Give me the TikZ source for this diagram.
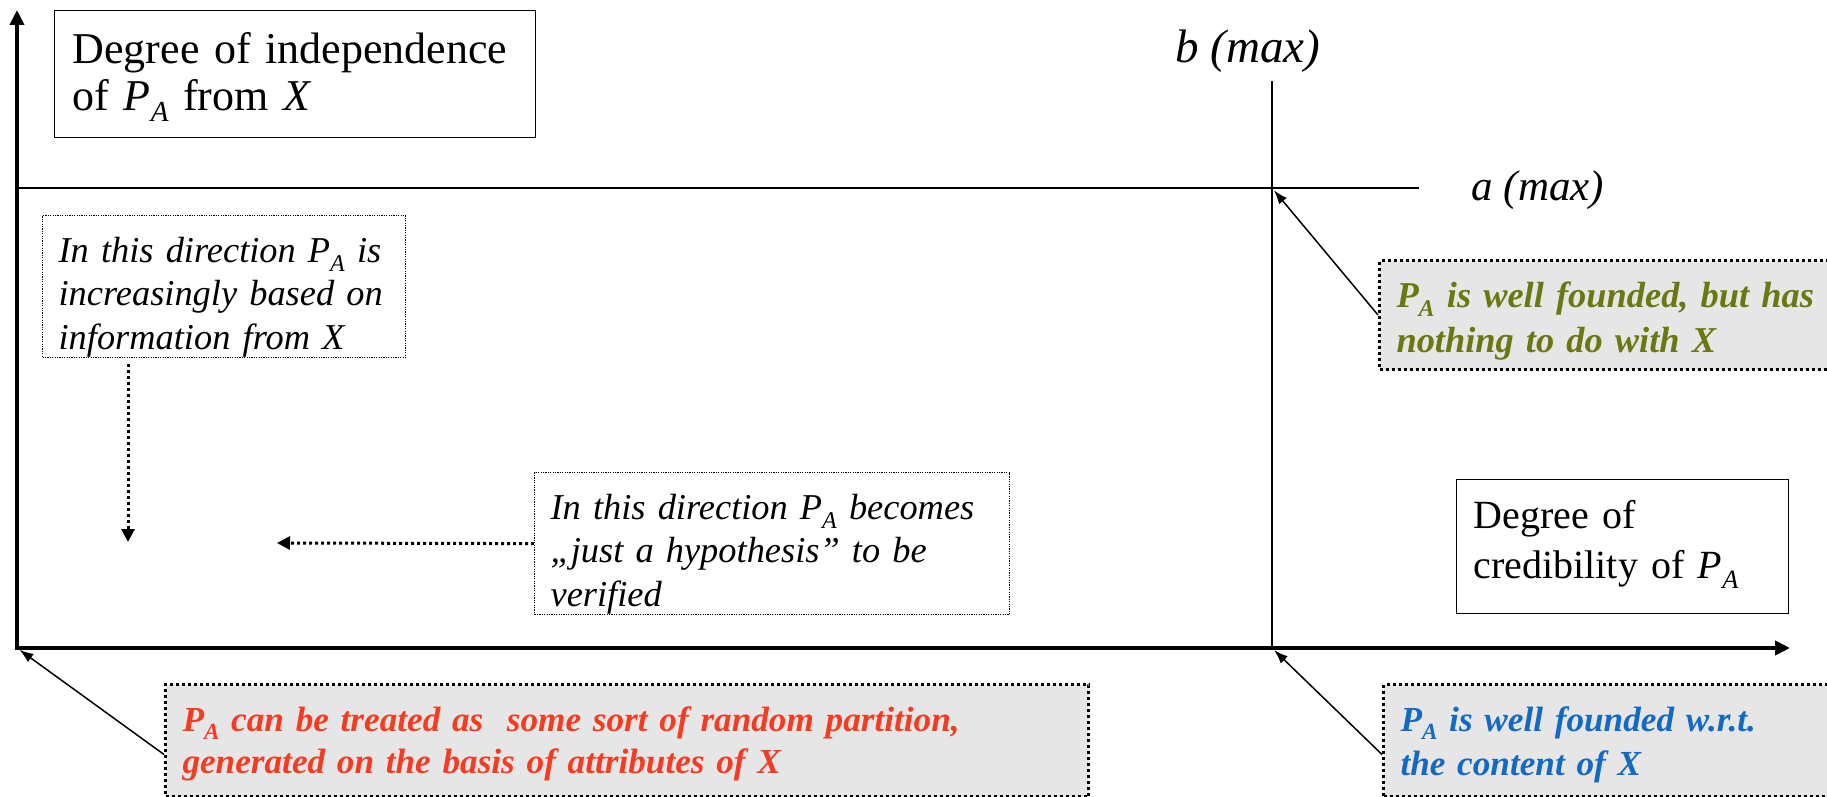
\documentclass[tikz,border=0pt]{standalone}
\usepackage{fontspec}
\setmainfont{Liberation Serif}
\usetikzlibrary{arrows.meta,positioning,calc}
\definecolor{olive}{RGB}{107,120,17}
\definecolor{redorange}{RGB}{245,60,35}
\definecolor{blue}{RGB}{20,105,195}
\definecolor{lightgray}{RGB}{230,230,230}
\newcommand{\PA}{\textit{P}\raisebox{-0.24em}{\scalebox{0.66}{\textit{A}}}}

\begin{document}
\begin{tikzpicture}[x=0.5pt, y=-0.5pt,
    every node/.style={align=left, anchor=north west, inner ysep=0pt},
    plainbox/.style={draw, line width=0.6pt, inner xsep=9pt, font=\fontsize{22}{23.5}\selectfont},
    dotbox/.style={draw, line width=0.6pt, dash pattern=on 0.6pt off 0.6pt, inner xsep=8pt, font=\itshape\fontsize{18.2}{21.6}\selectfont},
    callout/.style={draw, fill=lightgray, line width=1.5pt, dash pattern=on 1.5pt off 1.5pt, inner xsep=8.5pt, font=\bfseries\itshape\fontsize{18}{22}\selectfont},
    maxlabel/.style={anchor=base, inner sep=0pt, font=\itshape\fontsize{23.5}{23.5}\selectfont},
    axis/.style={line width=2pt, {Triangle[length=7.5pt,width=7pt]}-{Triangle[length=7.5pt,width=7pt]}},
    maxline/.style={line width=0.75pt},
    dirarrow/.style={line width=1.5pt, dash pattern=on 1.5pt off 1.5pt, -{Triangle[length=6.5pt,width=6.5pt]}},
    callarrow/.style={line width=0.75pt, shorten >=1.5pt, -{Latex[length=7pt,width=5pt]}}]
  \useasboundingbox (0,0) rectangle (1827,797);
  \clip (0,0) rectangle (1827,797);

  % axes
  \coordinate (origin) at (17,648);
  \coordinate (ytip) at (17,10);
  \coordinate (xtip) at (1790,648);
  \draw[axis] (ytip) -- (origin) -- (xtip);

  % maximum lines
  \coordinate (astart) at (17,188);
  \coordinate (aend) at (1419,188);
  \coordinate (btop) at (1272,81);
  \coordinate (bfoot) at (1272,648);
  \draw[maxline] (astart) -- (aend);
  \draw[maxline] (btop) -- (bfoot);
  \coordinate (ab) at (btop |- aend);
  \node[maxlabel] (bmax) at (1248,63) {b (max)};
  \node[maxlabel, font=\itshape\fontsize{21.5}{21.5}\selectfont] (amax) at (1538,200) {a (max)};

  % axis titles
  \node[plainbox, text width=222.5pt, text height=26.5pt, text depth=37pt] (indep) at (54,10) {Degree of independence\\of \PA{} from \textit{X}};
  \node[plainbox, font=\fontsize{20}{25}\selectfont, inner xsep=8.5pt, text width=149pt, text height=24.5pt, text depth=42.5pt] (cred) at (1456,479) {Degree of\\credibility of \PA};

  % directions
  \node[dotbox, text width=165.5pt, text height=23.5pt, text depth=47.5pt] (dir1) at (42,215) {In this direction \PA{} is\\increasingly based on\\information from X};
  \node[dotbox, text width=221.5pt, text height=23.5pt, text depth=47.5pt] (dir2) at (534,472) {In this direction \PA{} becomes\\„just a hypothesis” to be\\verified};
  \coordinate (downtip) at (128,542);
  \coordinate (lefttip) at (277,543);
  \draw[dirarrow, shorten <=3pt] (dir1.south -| downtip) -- (downtip);
  \draw[dirarrow] (dir2.west) -- (lefttip);

  % callouts
  \node[callout, text=olive, font=\bfseries\itshape\fontsize{18.2}{22.5}\selectfont, text width=224pt, text height=23.5pt, text depth=31pt] (wellx) at (1378,259) {\PA{} is well founded, but has\\nothing to do with X};
  \node[callout, text=redorange, font=\bfseries\itshape\fontsize{17.6}{21}\selectfont, text width=444.5pt, text height=23.5pt, text depth=32.5pt] (random) at (164,683) {\PA{} can be treated as~ some sort of random partition,\\generated on the basis of attributes of X};
  \node[callout, text=blue, font=\bfseries\itshape\fontsize{17.6}{22}\selectfont, text width=222pt, text height=23.5pt, text depth=32.5pt] (wrtx) at (1382,683) {\PA{} is well founded w.r.t.\\the content of X};
  \draw[callarrow] (wellx.west) -- (ab);
  \draw[callarrow] ([yshift=-7pt]random.west) -- (origin);
  \draw[callarrow] ([yshift=-7pt]wrtx.west) -- (bfoot);
\end{tikzpicture}
\end{document}
